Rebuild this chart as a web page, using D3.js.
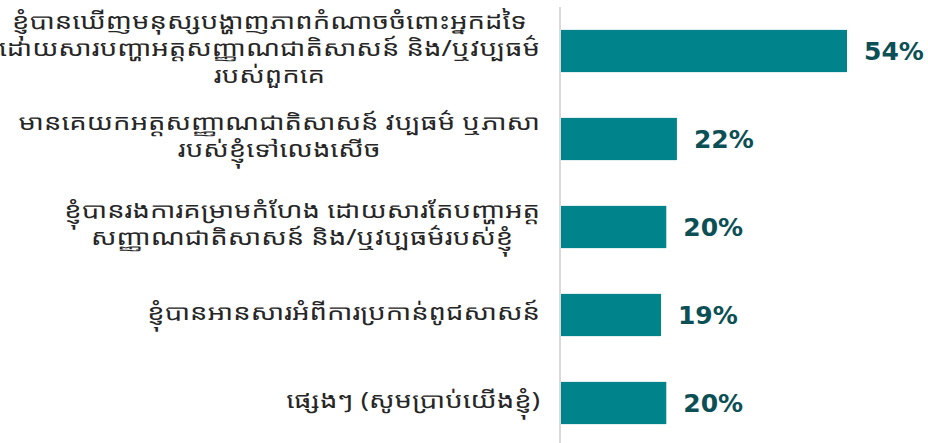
<!DOCTYPE html>
<html>
<head>
<meta charset="utf-8">
<script src="https://cdn.jsdelivr.net/npm/d3@7"></script>
<style>
  html, body { margin: 0; padding: 0; background: #fff; }
  #chart text.cat { font-family: "Khmer OS System", "Noto Sans Khmer", "Khmer UI", "Noto Sans", sans-serif; }
  #chart text.val { font-family: Verdana, "DejaVu Sans", sans-serif; font-weight: bold; }
</style>
</head>
<body>
<div id="chart"></div>
<script>
'use strict';

var WIDTH = 928,
    HEIGHT = 443,
    AXIS_X = 560,
    LABEL_RIGHT = 540,
    LINE_H = 27,
    CAT_SIZE = 21.5,
    CAT_STRETCH = 1.28;   // the original Khmer face is wider than the installed one

// categories, one entry per bar, split into the lines shown
var categories = [
    ["ខ្ញុំបានឃើញមនុស្សបង្ហាញភាពកំណាចចំពោះអ្នកដទៃ", "ដោយសារបញ្ហាអត្តសញ្ញាណជាតិសាសន៍ និង/ឬវប្បធម៌", "របស់ពួកគេ"],
    ["មានគេយកអត្តសញ្ញាណជាតិសាសន៍ វប្បធម៌ ឬភាសា", "របស់ខ្ញុំទៅលេងសើច"],
    ["ខ្ញុំបានរងការគម្រាមកំហែង ដោយសារតែបញ្ហាអត្ត", "សញ្ញាណជាតិសាសន៍ និង/ឬវប្បធម៌របស់ខ្ញុំ"],
    ["ខ្ញុំបានអានសារអំពីការប្រកាន់ពូជសាសន៍"],
    ["ផ្សេងៗ (សូមប្រាប់យើងខ្ញុំ)"]
];
var values = [54, 22, 20, 19, 20];

var svg = d3.select("#chart").append("svg")
    .attr("width", WIDTH)
    .attr("height", HEIGHT);

var x = d3.scaleLinear()
    .domain([0, 54])
    .range([AXIS_X, 847]);

var y = d3.scaleBand()
    .domain(d3.range(values.length))
    .range([7, 447])
    .paddingInner(0.52)
    .paddingOuter(0.26);

// bars
svg.append("g").attr("id", "bars")
    .selectAll("rect")
    .data(values)
    .enter().append("rect")
    .attr("x", x(0))
    .attr("y", function (d, i) { return y(i); })
    .attr("width", function (d) { return x(d) - x(0); })
    .attr("height", y.bandwidth())
    .attr("fill", "#00838a");

// vertical axis line
svg.append("line")
    .attr("x1", AXIS_X).attr("x2", AXIS_X)
    .attr("y1", 7).attr("y2", HEIGHT)
    .attr("stroke", "#d9d9d9")
    .attr("stroke-width", 2);

// value labels
svg.append("g").attr("id", "values")
    .selectAll("text")
    .data(values)
    .enter().append("text")
    .attr("class", "val")
    .attr("x", function (d) { return x(d) + 17; })
    .attr("y", function (d, i) { return y(i) + y.bandwidth() / 2; })
    .attr("dy", "0.36em")
    .attr("font-size", 25)
    .attr("fill", "#0c5056")
    .text(function (d) { return d + "%"; });

// category labels, lines centred on each other, block right aligned
var cats = svg.append("g").attr("id", "cats")
    .attr("transform", "translate(" + LABEL_RIGHT + ",0) scale(" + CAT_STRETCH + ",1)")
    .selectAll("text")
    .data(categories)
    .enter().append("text")
    .attr("class", "cat")
    .attr("font-size", CAT_SIZE)
    .attr("fill", "#262626")
    .attr("text-anchor", "middle");

cats.each(function (lines, i) {
    var t = d3.select(this);
    var cy = y(i) + y.bandwidth() / 2 - 2;
    var top = cy - (lines.length - 1) * LINE_H / 2;
    lines.forEach(function (s, k) {
        t.append("tspan")
            .attr("y", top + k * LINE_H)
            .attr("dy", "0.32em")
            .text(s);
    });
    // widest line decides where the block sits
    var w = 0;
    t.selectAll("tspan").each(function () {
        w = Math.max(w, this.getComputedTextLength());
    });
    t.selectAll("tspan").attr("x", -w / 2);
});
</script>
</body>
</html>
